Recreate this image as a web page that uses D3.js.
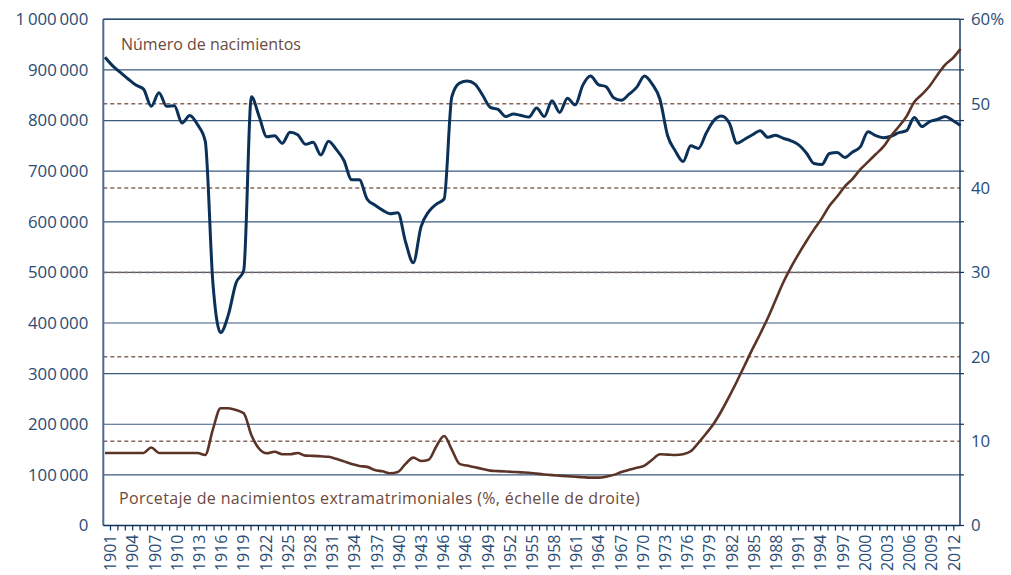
<!DOCTYPE html>
<html>
<head>
<meta charset="utf-8">
<script src="https://cdnjs.cloudflare.com/ajax/libs/d3/7.8.5/d3.min.js"></script>
<style>
body { margin: 0; background: #fff; }
text { font-family: "Open Sans", sans-serif; }
</style>
</head>
<body>
<div class="container"></div>
<script>
// data: births (thousands) and share of extramarital births (%), 1901-2012
var years = d3.range(1901, 2013);

var births = [
  925, 908, 895, 882, 870, 862, 828, 855, 828, 829,
  795, 810, 792, 760, 479, 381, 416, 479, 504, 847,
  808, 768, 770, 755, 777, 772, 753, 757, 732, 759,
  743, 721, 683, 683, 645, 633, 623, 616, 618, 560,
  519, 590, 620, 635, 645, 847, 874, 878, 872, 850,
  826, 822, 808, 813, 810, 807, 825, 808, 839, 816,
  844, 831, 870, 888, 871, 867, 845, 840, 852, 866,
  888, 872, 842, 770, 740, 719, 750, 745, 775, 800,
  809, 795, 755, 763, 772, 780, 767, 771, 765, 760,
  752, 736, 715, 713, 735, 737, 727, 738, 748, 778,
  770, 766, 769, 776, 780, 806, 788, 798, 802, 808,
  800, 790
];

var extraPct = [
  8.6, 8.6, 8.6, 8.6, 8.6, 8.6, 9.25, 8.6, 8.6, 8.6,
  8.6, 8.6, 8.6, 8.36, 11.4, 13.9, 13.9, 13.7, 13.3, 10.7,
  9.1, 8.56, 8.75, 8.44, 8.44, 8.6, 8.28, 8.25, 8.2, 8.15,
  7.9, 7.6, 7.3, 7.05, 6.95, 6.58, 6.42, 6.2, 6.35, 7.3,
  8.05, 7.65, 7.8, 9.4, 10.6, 9.0, 7.3, 7.1, 6.9, 6.7,
  6.5, 6.45, 6.4, 6.35, 6.3, 6.26, 6.15, 6.05, 5.97, 5.9,
  5.83, 5.77, 5.72, 5.67, 5.67, 5.78, 6.0, 6.33, 6.6, 6.85,
  7.09, 7.8, 8.44, 8.4, 8.36, 8.45, 8.8, 9.8, 10.9, 12.1,
  13.6, 15.3, 17.1, 19.0, 20.9, 22.7, 24.6, 26.7, 28.8, 30.6,
  32.2, 33.7, 35.1, 36.4, 37.9, 39.0, 40.2, 41.1, 42.2, 43.1,
  44.0, 44.9, 46.2, 47.3, 48.5, 50.2, 51.1, 52.1, 53.4, 54.6,
  55.4, 56.5
];

var leftTicks = [0, 100, 200, 300, 400, 500, 600, 700, 800, 900, 1000];
var leftTickLabels = ["0", "100\u2009000", "200\u2009000", "300\u2009000", "400\u2009000",
  "500\u2009000", "600\u2009000", "700\u2009000", "800\u2009000", "900\u2009000", "1\u2009000\u2009000"];
var rightTicks = [0, 10, 20, 30, 40, 50, 60];
var rightTickLabels = ["0", "10", "20", "30", "40", "50", "60%"];
var xTickLabels = ["1901", "1904", "1907", "1910", "1913", "1916", "1919", "1922", "1925",
  "1928", "1931", "1934", "1937", "1940", "1943", "1946", "1946", "1949", "1952", "1955",
  "1958", "1961", "1964", "1967", "1970", "1973", "1976", "1979", "1982", "1985", "1988",
  "1991", "1994", "1997", "2000", "2003", "2006", "2009", "2012"];

var settings = {
  w: 1011,
  h: 575,
  left: 103.3,
  right: 960,
  top: 19.3,
  bottom: 525.5
};

var navy = "#0b3158",
    brown = "#5b3427",
    axisText = "#2a4d75";

var svg = d3.select(".container").append("svg")
  .attr("width", settings.w)
  .attr("height", settings.h)
  .style("display", "block");

// scales
var x = d3.scaleLinear().domain([1901, 2012]).range([105, 960.5]);
var tickPos = d3.scalePoint().domain(d3.range(xTickLabels.length * 3 - 2)).range([110, 953.3]);
var yLeft = d3.scaleLinear().domain([0, 1000]).range([settings.bottom, settings.top]);
var yRight = d3.scaleLinear().domain([0, 60]).range([settings.bottom, settings.top]);

// solid gridlines (left scale)
svg.append("g").selectAll("line")
  .data(leftTicks.slice(1))
  .enter().append("line")
  .attr("x1", settings.left).attr("x2", settings.right)
  .attr("y1", function (d) { return yLeft(d); })
  .attr("y2", function (d) { return yLeft(d); })
  .style("stroke", "#3a5a7e")
  .style("stroke-width", 1.2);

// dashed gridlines (right scale)
svg.append("g").selectAll("line")
  .data(rightTicks.slice(1, -1))
  .enter().append("line")
  .attr("x1", settings.left).attr("x2", settings.right)
  .attr("y1", function (d) { return yRight(d); })
  .attr("y2", function (d) { return yRight(d); })
  .style("stroke", "#86675c")
  .style("stroke-width", 1.5)
  .style("stroke-dasharray", "4,3");

// left axis
var leftAxis = svg.append("g")
  .attr("transform", "translate(" + settings.left + ",0)")
  .call(d3.axisLeft(yLeft).tickValues(leftTicks)
    .tickFormat(function (d, i) { return leftTickLabels[i]; })
    .tickSize(0).tickPadding(15));
leftAxis.select(".domain").remove();
leftAxis.selectAll("text")
  .style("font-size", "16.8px")
  .style("fill", axisText)
  .style("font-family", "Open Sans, sans-serif");
svg.append("line")
  .attr("x1", settings.left).attr("x2", settings.left)
  .attr("y1", settings.top).attr("y2", settings.bottom)
  .style("stroke", "#4d6c8d").style("stroke-width", 2);

// right axis
var rightAxis = svg.append("g")
  .attr("transform", "translate(" + settings.right + ",0)")
  .call(d3.axisRight(yRight).tickValues(rightTicks)
    .tickFormat(function (d, i) { return rightTickLabels[i]; })
    .tickSize(0).tickPadding(11));
rightAxis.select(".domain").remove();
rightAxis.selectAll("text")
  .style("font-size", "16.8px")
  .style("fill", axisText)
  .style("font-family", "Open Sans, sans-serif");
rightAxis.selectAll(".minor")
  .data(leftTicks)
  .enter().append("line")
  .attr("x1", 0).attr("x2", 4)
  .attr("y1", function (d) { return yLeft(d); })
  .attr("y2", function (d) { return yLeft(d); })
  .style("stroke", navy).style("stroke-width", 1.2);
svg.append("line")
  .attr("x1", settings.right).attr("x2", settings.right)
  .attr("y1", settings.top).attr("y2", settings.bottom)
  .style("stroke", "#1d3d63").style("stroke-width", 1.5);

// top border
svg.append("line")
  .attr("x1", settings.left).attr("x2", settings.right)
  .attr("y1", settings.top).attr("y2", settings.top)
  .style("stroke", "#2a4a70").style("stroke-width", 1.5);

// bottom axis
var bottomAxis = svg.append("g")
  .attr("transform", "translate(0," + settings.bottom + ")")
  .call(d3.axisBottom(tickPos)
    .tickSizeInner(5).tickSizeOuter(0)
    .tickFormat(function (i) { return i % 3 === 0 ? xTickLabels[i / 3] : ""; }));
bottomAxis.select(".domain").remove();
bottomAxis.selectAll(".tick line").style("stroke", navy).style("stroke-width", 1.2);
bottomAxis.selectAll("text")
  .attr("transform", "rotate(-90)")
  .attr("x", -9).attr("y", 0).attr("dy", "0.36em")
  .style("text-anchor", "end")
  .style("font-size", "16px")
  .style("fill", axisText)
  .style("font-family", "Open Sans, sans-serif");
svg.append("line")
  .attr("x1", settings.left).attr("x2", settings.right)
  .attr("y1", settings.bottom).attr("y2", settings.bottom)
  .style("stroke", navy).style("stroke-width", 1.5);

// series lines
var birthLine = d3.line()
  .x(function (d, i) { return x(years[i]); })
  .y(function (d) { return yLeft(d); })
  .curve(d3.curveMonotoneX);

var pctLine = d3.line()
  .x(function (d, i) { return x(years[i]); })
  .y(function (d) { return yRight(d); })
  .curve(d3.curveMonotoneX);

svg.append("path")
  .datum(births)
  .attr("d", birthLine)
  .style("fill", "none")
  .style("stroke", navy)
  .style("stroke-width", 3)
  .style("stroke-linejoin", "round");

svg.append("path")
  .datum(extraPct)
  .attr("d", pctLine)
  .style("fill", "none")
  .style("stroke", brown)
  .style("stroke-width", 2.6)
  .style("stroke-linejoin", "round");

// labels
svg.append("text")
  .attr("x", 121).attr("y", 49.5)
  .text("Número de nacimientos")
  .style("font-size", "16px")
  .style("fill", "#6b4a40");

svg.append("text")
  .attr("x", 119).attr("y", 504)
  .text("Porcetaje de nacimientos extramatrimoniales (%, échelle de droite)")
  .style("font-size", "16px")
  .style("letter-spacing", "0.35px")
  .style("fill", "#6b4a40");
</script>
</body>
</html>
